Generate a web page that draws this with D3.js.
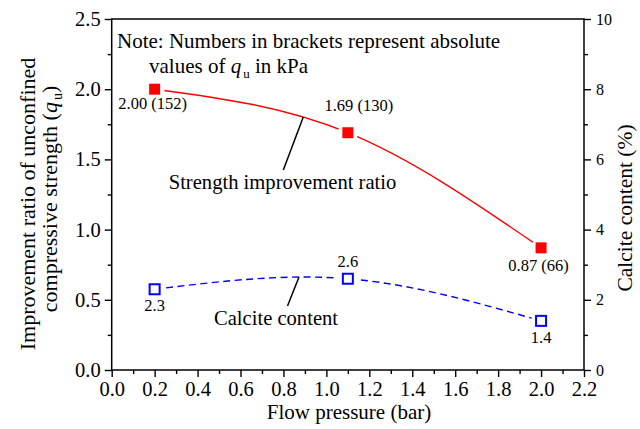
<!DOCTYPE html>
<html>
<head>
<meta charset="utf-8">
<script src="https://cdn.jsdelivr.net/npm/d3@7/dist/d3.min.js"></script>
<style>
  html, body { margin: 0; padding: 0; background: #fff; }
  svg { display: block; }
  text { font-family: "Liberation Serif", "Times New Roman", serif; fill: #000; }
</style>
</head>
<body>
<svg id="chart" width="640" height="429"></svg>
<script>
// Flow pressure (bar) at which each specimen was treated
const pressures = [0.2, 1.1, 2.0];
// Improvement ratio of unconfined compressive strength
const strengthRatio = [2.00, 1.69, 0.87];
// Absolute q_u values in kPa (shown in brackets)
const strengthKPa = [152, 130, 66];
// Calcite content (%)
const calcite = [2.3, 2.6, 1.4];

const xTicks = [0.0, 0.2, 0.4, 0.6, 0.8, 1.0, 1.2, 1.4, 1.6, 1.8, 2.0, 2.2];
const yLeftTicks = [0.0, 0.5, 1.0, 1.5, 2.0, 2.5];
const yRightTicks = [0, 2, 4, 6, 8, 10];

const svg = d3.select("#chart");
const L = 111.7, R = 584, T = 19, B = 370;

const x = d3.scaleLinear().domain([0, 2.2]).range([L, R]);
const yL = d3.scaleLinear().domain([0, 2.5]).range([B, T]);
const yR = d3.scaleLinear().domain([0, 10]).range([B, T]);

const red = "#ff0000", blue = "#0000ff";

// ---- axes ----
function styleAxis(g, size) {
  g.select(".domain").remove();
  g.selectAll("line").attr("stroke", "#000").attr("stroke-width", 1.4);
  g.selectAll("text").style("font-size", size + "px").attr("fill", "#000");
}

const minorX = d3.range(1, 22, 2).map(i => i / 10);
const minorYL = [0.25, 0.75, 1.25, 1.75, 2.25];
const minorYR = [1, 3, 5, 7, 9];

svg.append("g").attr("transform", `translate(0,${B})`)
  .call(d3.axisBottom(x).tickValues(minorX).tickSize(4).tickFormat(""))
  .call(g => styleAxis(g, 20));
svg.append("g").attr("transform", `translate(0,${B})`)
  .call(d3.axisBottom(x).tickValues(xTicks).tickSize(7).tickPadding(4).tickFormat(d3.format(".1f")))
  .call(g => styleAxis(g, 20.5));

svg.append("g").attr("transform", `translate(${L},0)`)
  .call(d3.axisLeft(yL).tickValues(minorYL).tickSize(4).tickFormat(""))
  .call(g => styleAxis(g, 20));
svg.append("g").attr("transform", `translate(${L},0)`)
  .call(d3.axisLeft(yL).tickValues(yLeftTicks).tickSize(7).tickPadding(4).tickFormat(d3.format(".1f")))
  .call(g => styleAxis(g, 20.5));

svg.append("g").attr("transform", `translate(${R},0)`)
  .call(d3.axisRight(yR).tickValues(minorYR).tickSize(4).tickFormat(""))
  .call(g => styleAxis(g, 16));
svg.append("g").attr("transform", `translate(${R},0)`)
  .call(d3.axisRight(yR).tickValues(yRightTicks).tickSize(7).tickPadding(5).tickFormat(d3.format("d")))
  .call(g => styleAxis(g, 16));

// frame
svg.append("rect")
  .attr("x", L).attr("y", T).attr("width", R - L).attr("height", B - T)
  .attr("fill", "none").attr("stroke", "#000").attr("stroke-width", 1.5);

// ---- gaps around markers ----
const defs = svg.append("defs");
const mask = defs.append("mask").attr("id", "gaps").attr("maskUnits", "userSpaceOnUse")
  .attr("x", 0).attr("y", 0).attr("width", 640).attr("height", 429);
mask.append("rect").attr("width", 640).attr("height", 429).attr("fill", "#fff");
pressures.forEach((p, i) => {
  mask.append("circle").attr("cx", x(p)).attr("cy", yL(strengthRatio[i])).attr("r", 10).attr("fill", "#000");
  mask.append("circle").attr("cx", x(p)).attr("cy", yR(calcite[i])).attr("r", 10).attr("fill", "#000");
});

// ---- curves ----
const lineL = d3.line().x((d, i) => x(pressures[i])).y(d => yL(d)).curve(d3.curveNatural);
const lineR = d3.line().x((d, i) => x(pressures[i])).y(d => yR(d)).curve(d3.curveNatural);

svg.append("path").datum(strengthRatio).attr("d", lineL)
  .attr("fill", "none").attr("stroke", red).attr("stroke-width", 1.4).attr("mask", "url(#gaps)");
svg.append("path").datum(calcite).attr("d", lineR)
  .attr("fill", "none").attr("stroke", blue).attr("stroke-width", 1.4)
  .attr("stroke-dasharray", "7,4.5").attr("mask", "url(#gaps)");

// ---- markers ----
svg.selectAll(".sq-red").data(strengthRatio).enter().append("rect")
  .attr("x", (d, i) => x(pressures[i]) - 5.5).attr("y", d => yL(d) - 5.5)
  .attr("width", 11).attr("height", 11).attr("fill", red);
svg.selectAll(".sq-blue").data(calcite).enter().append("rect")
  .attr("x", (d, i) => x(pressures[i]) - 5).attr("y", d => yR(d) - 5)
  .attr("width", 10).attr("height", 10).attr("fill", "#fff")
  .attr("stroke", blue).attr("stroke-width", 2);

// ---- value labels ----
const redLabelOffset = [[-2, 20], [11, -21.5], [-2.5, 23]];
strengthRatio.forEach((v, i) => {
  svg.append("text")
    .attr("x", x(pressures[i]) + redLabelOffset[i][0])
    .attr("y", yL(v) + redLabelOffset[i][1])
    .attr("text-anchor", "middle").style("font-size", "16.5px")
    .text(`${d3.format(".2f")(v)} (${strengthKPa[i]})`);
});
const blueLabelOffset = [[0, 22], [0, -12], [0, 22]];
calcite.forEach((v, i) => {
  svg.append("text")
    .attr("x", x(pressures[i]) + blueLabelOffset[i][0])
    .attr("y", yR(v) + blueLabelOffset[i][1])
    .attr("text-anchor", "middle").style("font-size", "16.5px")
    .text(d3.format(".1f")(v));
});

// ---- annotations ----
svg.append("line").attr("x1", 303.3).attr("y1", 117).attr("x2", 283.3).attr("y2", 170)
  .attr("stroke", "#000").attr("stroke-width", 1.5);
svg.append("text").attr("x", 282.5).attr("y", 189).attr("text-anchor", "middle")
  .style("font-size", "20.6px").text("Strength improvement ratio");

svg.append("line").attr("x1", 299).attr("y1", 277).attr("x2", 287.5).attr("y2", 306)
  .attr("stroke", "#000").attr("stroke-width", 1.5);
svg.append("text").attr("x", 276).attr("y", 325).attr("text-anchor", "middle")
  .style("font-size", "20.6px").text("Calcite content");

const note = svg.append("text").style("font-size", "21px");
note.append("tspan").attr("x", 117).attr("y", 48).text("Note: Numbers in brackets represent absolute");
const n2 = svg.append("text").style("font-size", "21px").attr("x", 149).attr("y", 73);
n2.append("tspan").text("values of ");
n2.append("tspan").style("font-style", "italic").text("q");
n2.append("tspan").style("font-size", "13px").attr("dx", 2).attr("dy", 5).text("u");
n2.append("tspan").attr("dy", -5).text(" in kPa");

// ---- axis titles ----
svg.append("text").attr("x", 349).attr("y", 419).attr("text-anchor", "middle")
  .style("font-size", "21px").text("Flow pressure (bar)");

svg.append("text").attr("transform", "translate(35,204) rotate(-90)")
  .attr("text-anchor", "middle").style("font-size", "22px")
  .text("Improvement ratio of unconfined");
const t2 = svg.append("text").attr("transform", "translate(57,199) rotate(-90)")
  .attr("text-anchor", "middle").style("font-size", "22px");
t2.append("tspan").text("compressive strength (");
t2.append("tspan").style("font-style", "italic").text("q");
t2.append("tspan").style("font-size", "14px").attr("dx", 2).attr("dy", 5).text("u");
t2.append("tspan").attr("dy", -5).text(")");

svg.append("text").attr("transform", "translate(632,208) rotate(-90)")
  .attr("text-anchor", "middle").style("font-size", "21.5px")
  .text("Calcite content (%)");
</script>
</body>
</html>
